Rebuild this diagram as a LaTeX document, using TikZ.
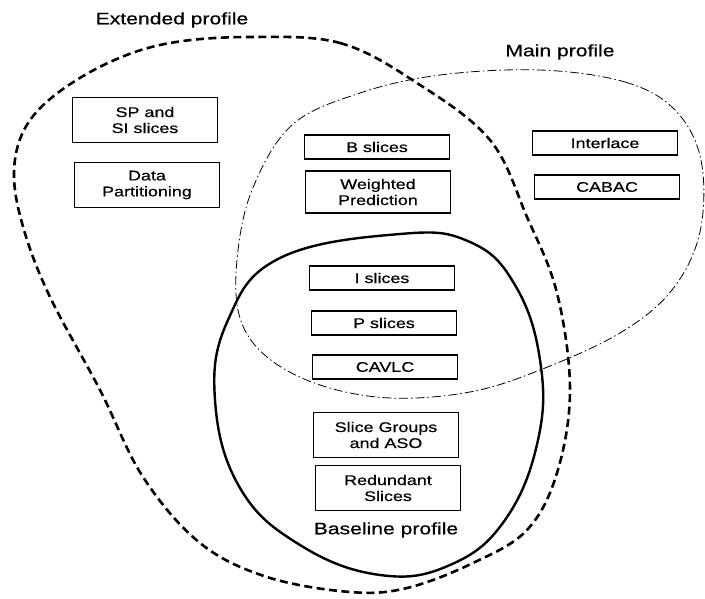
\documentclass[tikz,border=0pt]{standalone}
\usepackage{fontspec}
\setmainfont{Liberation Sans}[FakeStretch=1.28,FakeBold=0.6]
\begin{document}
\begin{tikzpicture}[x=1pt,y=-1pt,
  feat/.style={draw,line width=1.2pt,minimum width=145pt,align=center,inner sep=1pt,
    font=\fontsize{14}{16}\selectfont},
  one/.style={feat,minimum height=24pt},
  two/.style={feat,minimum height=45pt},
  plabel/.style={font=\fontsize{16.5}{18}\selectfont},
  extline/.style={line width=2.6pt,dash pattern=on 8pt off 4.5pt},
  mainline/.style={line width=0.8pt,dash pattern=on 9pt off 3pt on 1.5pt off 3pt},
  baseline/.style={line width=2.4pt}]
\useasboundingbox (0,0) rectangle (705,599);
% profile outlines
\draw[extline] plot[smooth cycle,tension=0.6] coordinates {
 (250,37) (340,43) (417,83) (490,140) (527,217) (557,293) (570,390)
 (557,473) (527,530) (473,563) (407,588) (350,592) (267,577) (200,543)
 (143,477) (100,390) (50,297) (24,230) (14,175) (24,130) (55,95) (110,62) (170,43)};
\draw[mainline] plot[smooth cycle,tension=0.6] coordinates {
 (540,70) (625,82) (675,110) (701,160) (700,232) (672,290) (620,333)
 (540,370) (470,392) (390,398) (320,385) (267,357) (240,318) (237,260)
 (252,190) (292,125) (360,93) (440,75)};
\draw[baseline] plot[smooth cycle,tension=0.7] coordinates {
 (400,234) (470,242) (515,285) (540,360) (538,440) (505,520) (450,565)
 (380,575) (300,545) (240,488) (215,400) (228,320) (280,258)};
% labels
\node[plabel] (ext) at (172,20) {Extended profile};
\node[plabel] (main) at (560,52) {Main profile};
\node[plabel] (base) at (386,530) {Baseline profile};
% features
\node[two] (sp) at (145,120) {SP and\\SI slices};
\node[two] (dp) at (147,185) {Data\\Partitioning};
\node[one] (bs) at (377,147) {B slices};
\node[feat,minimum height=42pt] (wp) at (378,192) {Weighted\\Prediction};
\node[one] (il) at (605,143) {Interlace};
\node[one] (cabac) at (607,187) {CABAC};
\node[one] (is) at (382,278) {I slices};
\node[one] (ps) at (384,323) {P slices};
\node[one] (cavlc) at (385,367) {CAVLC};
\node[two] (sg) at (386,435) {Slice Groups\\and ASO};
\node[two] (rs) at (388,488) {Redundant\\Slices};
\end{tikzpicture}
\end{document}
